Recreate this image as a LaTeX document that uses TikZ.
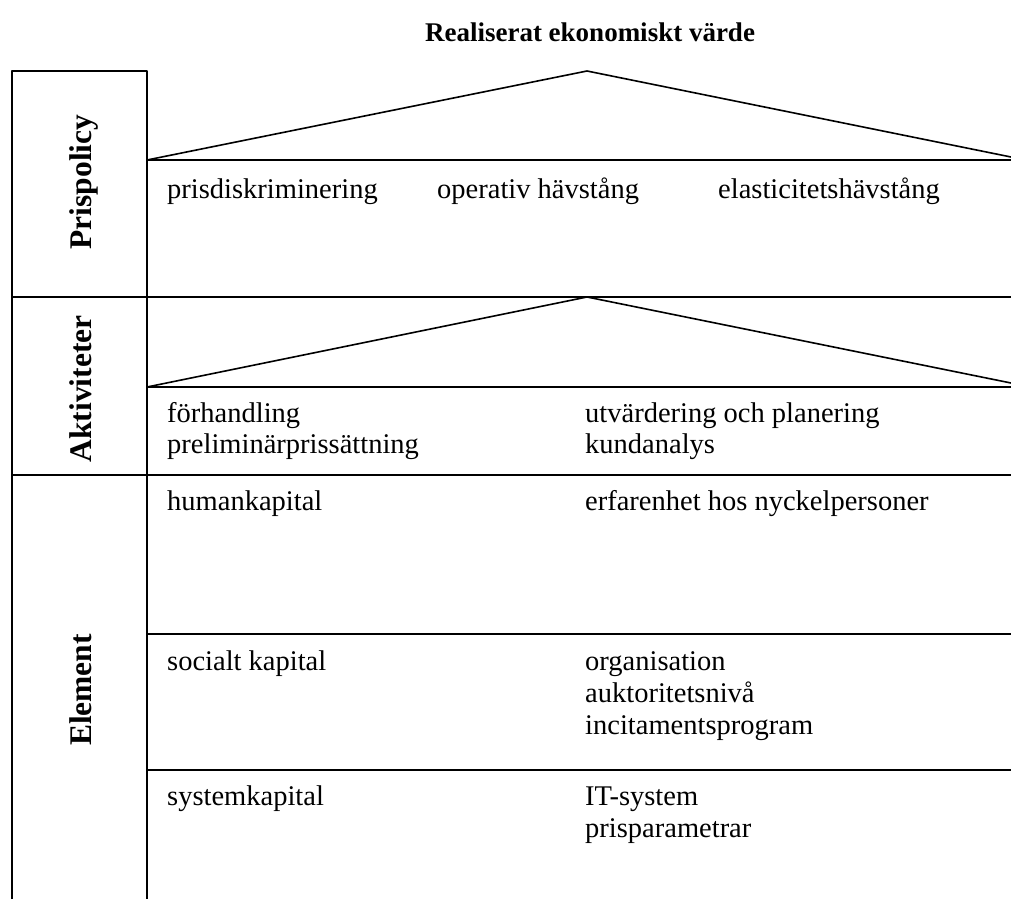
\documentclass[tikz,border=0pt]{standalone}
\usepackage{fontspec}
\setmainfont{Liberation Serif}
\begin{document}
\begin{tikzpicture}[x=1pt,y=-1pt,
  ln/.style={line width=1.6pt,line join=round},
  txt/.style={anchor=base west,inner sep=0pt,font=\fontsize{28.5}{31.5}\selectfont},
  lbl/.style={rotate=90,anchor=base,inner sep=0pt,font=\bfseries\fontsize{31.5}{36}\selectfont},
  ttl/.style={inner sep=0pt,font=\bfseries\fontsize{27}{30}\selectfont}]
\useasboundingbox (0,0) rectangle (1011,899);
% frame coordinates
\coordinate (tl) at (12,71);
\coordinate (tm) at (147,71);
\coordinate (bl) at (12,899);
\coordinate (bm) at (147,899);
\coordinate (a1) at (587,71);
\coordinate (b1l) at (147,160);
\coordinate (b1r) at (1011,160);
\coordinate (t1r) at (1011,157);
\coordinate (r1l) at (12,297);
\coordinate (r1r) at (1011,297);
\coordinate (a2) at (587,297);
\coordinate (b2l) at (147,387);
\coordinate (b2r) at (1011,387);
\coordinate (t2r) at (1011,383);
\coordinate (r2l) at (12,475);
\coordinate (r2r) at (1011,475);
\coordinate (s1l) at (147,634);
\coordinate (s1r) at (1011,634);
\coordinate (s2l) at (147,770);
\coordinate (s2r) at (1011,770);
% frame
\draw[ln] (bl) -- (tl) -- (tm) -- (bm);
\draw[ln] (r1l) -- (r1r);
\draw[ln] (r2l) -- (r2r);
\draw[ln] (b1l) -- (b1r);
\draw[ln] (b2l) -- (b2r);
\draw[ln] (s1l) -- (s1r);
\draw[ln] (s2l) -- (s2r);
% triangles
\draw[ln] (b1l) -- (a1) -- (t1r);
\draw[ln] (b2l) -- (a2) -- (t2r);
% title
\node[ttl] (title) at (590,32) {Realiserat ekonomiskt värde};
% side labels
\node[lbl] (lp) at (91,182) {Prispolicy};
\node[lbl] (la) at (91,389) {Aktiviteter};
\node[lbl] (le) at (91,690) {Element};
% row texts
\node[txt] (p1) at (167,198) {prisdiskriminering};
\node[txt] (p2) at (437,198) {operativ hävstång};
\node[txt] (p3) at (718,198) {elasticitetshävstång};
\node[txt] (ak1) at (167,422) {förhandling};
\node[txt] (ak2) at (167,453) {preliminärprissättning};
\node[txt] (ak3) at (585,422) {utvärdering och planering};
\node[txt] (ak4) at (585,453) {kundanalys};
\node[txt] (e1) at (167,510) {humankapital};
\node[txt] (e2) at (585,510) {erfarenhet hos nyckelpersoner};
\node[txt] (e3) at (167,670) {socialt kapital};
\node[txt] (e4) at (585,670) {organisation};
\node[txt] (e5) at (585,702) {auktoritetsnivå};
\node[txt] (e6) at (585,734) {incitamentsprogram};
\node[txt] (e7) at (167,805) {systemkapital};
\node[txt] (e8) at (585,805) {IT-system};
\node[txt] (e9) at (585,837) {prisparametrar};
\end{tikzpicture}
\end{document}
